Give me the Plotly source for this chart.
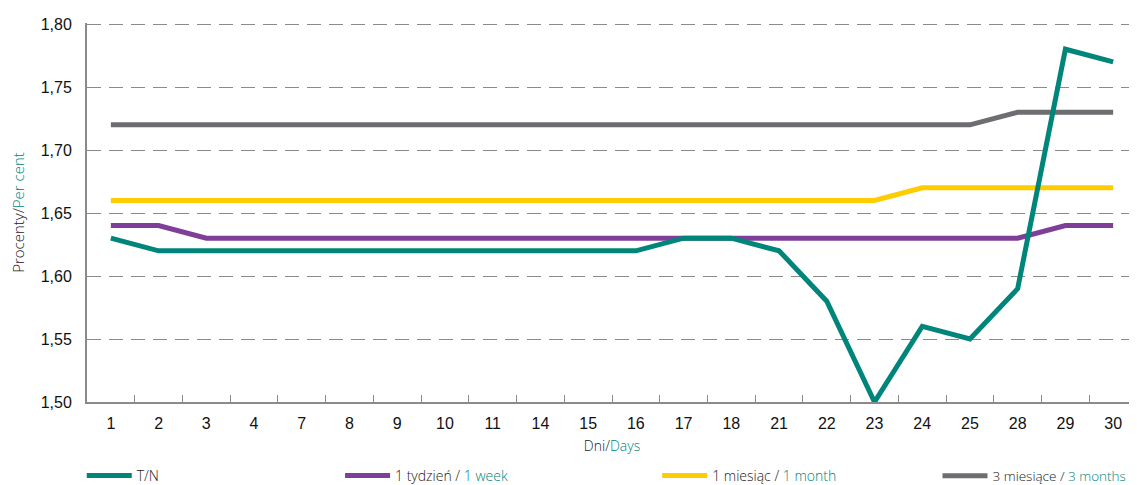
import plotly.graph_objects as go

days = ["1", "2", "3", "4", "7", "8", "9", "10", "11", "14", "15", "16", "17", "18",
        "21", "22", "23", "24", "25", "28", "29", "30"]
tn = [1.63, 1.62, 1.62, 1.62, 1.62, 1.62, 1.62, 1.62, 1.62, 1.62, 1.62, 1.62, 1.63, 1.63,
      1.62, 1.58, 1.50, 1.56, 1.55, 1.59, 1.78, 1.77]
week1 = [1.64, 1.64, 1.63, 1.63, 1.63, 1.63, 1.63, 1.63, 1.63, 1.63, 1.63, 1.63, 1.63, 1.63,
         1.63, 1.63, 1.63, 1.63, 1.63, 1.63, 1.64, 1.64]
month1 = [1.66, 1.66, 1.66, 1.66, 1.66, 1.66, 1.66, 1.66, 1.66, 1.66, 1.66, 1.66, 1.66, 1.66,
          1.66, 1.66, 1.66, 1.67, 1.67, 1.67, 1.67, 1.67]
month3 = [1.72, 1.72, 1.72, 1.72, 1.72, 1.72, 1.72, 1.72, 1.72, 1.72, 1.72, 1.72, 1.72, 1.72,
          1.72, 1.72, 1.72, 1.72, 1.72, 1.73, 1.73, 1.73]
y_ticks = [1.50, 1.55, 1.60, 1.65, 1.70, 1.75, 1.80]

TEAL = "#00857a"


def two(a, b):
    if b is None:
        return a
    return "%s<span style='color:%s'>%s</span>" % (a, TEAL, b)


series = [
    (two("T/N", None), tn, TEAL, "legend"),
    (two("1 tydzień / ", "1 week"), week1, "#7f3f98", "legend2"),
    (two("1 miesiąc / ", "1 month"), month1, "#ffcc00", "legend3"),
    (two("3 miesiące / ", "3 months"), month3, "#6d6e71", "legend4"),
]

fig = go.Figure()
for name, vals, col, lg in [series[3], series[2], series[1], series[0]]:
    fig.add_trace(go.Scatter(x=days, y=vals, mode="lines", name=name,
                             line=dict(color=col, width=5), legend=lg))

LFONT = dict(family="Open Sans, Liberation Sans", size=14, color="#222", weight=300)
LFONT4 = dict(family="Open Sans, Liberation Sans", size=13.5, color="#222", weight=300)
YTFONT = dict(family="Open Sans, Liberation Sans", size=15, color="#222", weight=300)
TFONT = dict(family="Liberation Sans, Arial", size=16, color="#111")
ly = -0.195
legend_common = dict(orientation="h", yanchor="middle", y=ly, xanchor="left",
                     itemwidth=45, bgcolor="rgba(0,0,0,0)", borderwidth=0)
fig.update_layout(
    width=1129, height=477,
    margin=dict(l=79, r=0, t=15, b=83, autoexpand=False),
    paper_bgcolor="white", plot_bgcolor="white",
    separators=", ",
    showlegend=True,
    legend=dict(x=-0.005, font=LFONT, **legend_common),
    legend2=dict(x=0.241, font=LFONT, **legend_common),
    legend3=dict(x=0.543, font=LFONT, **legend_common),
    legend4=dict(x=0.810, font=LFONT4, **legend_common),
    xaxis=dict(
        type="category", range=[-0.5, 21.5], automargin=False,
        showline=True, linecolor="#8a8a8a", linewidth=2,
        ticks="inside", ticklen=7, tickcolor="#8a8a8a", tickwidth=1,
        tickson="boundaries", showgrid=False,
        tickfont=TFONT,
        ticklabelstandoff=6,
        title=dict(text=two("Dni/", "Days"), font=LFONT, standoff=10),
    ),
    yaxis=dict(
        range=[1.50, 1.8008], tickvals=y_ticks, tickformat=".2f", automargin=False,
        showline=True, linecolor="#8a8a8a", linewidth=2,
        showgrid=True, gridcolor="#8a8a8a", gridwidth=1, griddash="14px,8px",
        zeroline=False, ticks="",
        tickfont=TFONT,
        ticklabelstandoff=10,
        title=dict(text=two("Procenty/", "Per cent"), font=YTFONT, standoff=14),
    ),
)

fig.write_html("out.html")
